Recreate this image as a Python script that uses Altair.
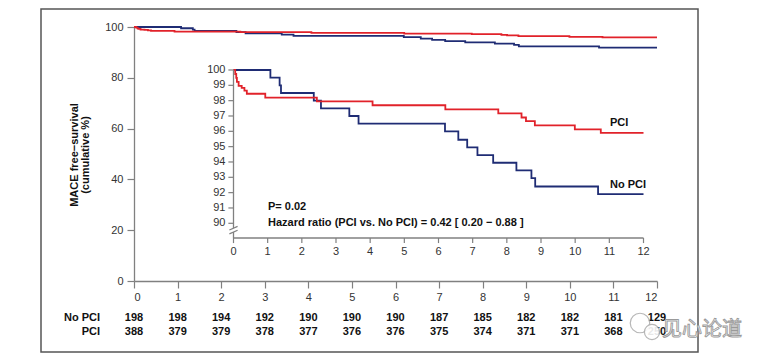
import altair as alt
import pandas as pd

# ---- data (time in months, survival in %) ----
nopci_t = [0, 1.08, 1.35, 1.39, 2.35, 2.56, 3.39, 3.66, 6.19, 6.58, 6.84, 7.14, 7.6, 8.28, 8.72, 8.83, 10.67, 12]
nopci_s = [100, 99.5, 99.0, 98.5, 98.0, 97.5, 97.0, 96.5, 96.0, 95.45, 94.95, 94.45, 93.95, 93.45, 92.95, 92.4, 91.9, 91.9]
pci_t = [0, 0.05, 0.08, 0.1, 0.15, 0.24, 0.32, 0.39, 0.93, 2.44, 4.07, 6.2, 7.75, 8.43, 8.56, 8.82, 9.99, 10.75, 12]
pci_s = [100, 99.74, 99.48, 99.23, 98.97, 98.84, 98.65, 98.45, 98.2, 97.95, 97.7, 97.43, 97.17, 96.9, 96.67, 96.39, 96.13, 95.9, 95.9]

months = list(range(13))
risk_nopci = [198, 198, 194, 192, 190, 190, 190, 187, 185, 182, 182, 181, 129]
risk_pci = [388, 379, 379, 378, 377, 376, 376, 375, 374, 371, 371, 368, 250]
main_y_ticks = [0, 20, 40, 60, 80, 100]
inset_y_ticks = list(range(90, 101))
groups = ["No PCI", "PCI"]

# break marks on inset y axis (x1, x2, y1, y2 in inset data units)
brk_x1 = [-0.12, -0.12]
brk_x2 = [0.12, 0.12]
brk_y1 = [89.56, 89.31]
brk_y2 = [89.80, 89.55]

RED = "#E1222A"
BLUE = "#1F2C74"
GRAY = "#808080"
TXT = "#333333"
FONT = "Liberation Sans"

surv = pd.DataFrame({
    "t": nopci_t + pci_t,
    "s": nopci_s + pci_s,
    "g": ["No PCI"] * len(nopci_t) + ["PCI"] * len(pci_t),
})
risk = pd.DataFrame({"t": months, "n0": risk_nopci, "n1": risk_pci})
iyt = pd.DataFrame({"v": inset_y_ticks})
ixt = pd.DataFrame({"t": months})
brk = pd.DataFrame({"x1": brk_x1, "x2": brk_x2, "y1": brk_y1, "y2": brk_y2})
one = alt.Data(values=[{}])

color = alt.Color("g:N", scale=alt.Scale(domain=groups, range=[BLUE, RED]), legend=None)

# ---- main scales / axes ----
main_x = alt.Scale(domain=[0, 12], nice=False, zero=False)
main_y = alt.Scale(domain=[0, 100], nice=False, zero=False)
ax_x = alt.Axis(values=months, title=None, grid=False, tickSize=7, labelPadding=3,
                domainColor=GRAY, tickColor=GRAY, domainWidth=1.3, tickWidth=1.2,
                labelColor=TXT, labelFont=FONT, labelFontSize=11)
ax_y = alt.Axis(values=main_y_ticks, title=None, grid=False, tickSize=7, labelPadding=4,
                domainColor=GRAY, tickColor=GRAY, domainWidth=1.3, tickWidth=1.2,
                labelColor=TXT, labelFont=FONT, labelFontSize=11)
MX = alt.X("t:Q", scale=main_x, axis=ax_x)
MY = alt.Y("s:Q", scale=main_y, axis=ax_y)

main_lines = alt.Chart(surv).mark_line(interpolate="step-after", strokeWidth=1.8).encode(
    x=MX, y=MY, color=color, detail="g:N")

frame = alt.Chart(one).mark_rect(fillOpacity=0, stroke="#555555", strokeWidth=1.5).encode(
    x=alt.value(-93), x2=alt.value(564), y=alt.value(-18), y2=alt.value(325))

ytitle1 = alt.Chart(one).mark_text(angle=270, font=FONT, fontSize=11, fontWeight="bold",
                                   color="#111", baseline="middle").encode(
    x=alt.value(-59), y=alt.value(128), text=alt.value("MACE free−survival"))
ytitle2 = alt.Chart(one).mark_text(angle=270, font=FONT, fontSize=11, fontWeight="bold",
                                   color="#111", baseline="middle").encode(
    x=alt.value(-48), y=alt.value(128), text=alt.value("(cumulative %)"))

row0 = alt.Chart(risk).mark_text(font=FONT, fontSize=11, fontWeight="bold", color="#111",
                                 baseline="middle").encode(
    x=MX, y=alt.value(291), text="n0:N")
row1 = alt.Chart(risk).mark_text(font=FONT, fontSize=11, fontWeight="bold", color="#111",
                                 baseline="middle").encode(
    x=MX, y=alt.value(305), text="n1:N")
lab0 = alt.Chart(one).mark_text(font=FONT, fontSize=11, fontWeight="bold", color="#111",
                                align="right", baseline="middle").encode(
    x=alt.value(-34), y=alt.value(291), text=alt.value("No PCI"))
lab1 = alt.Chart(one).mark_text(font=FONT, fontSize=11, fontWeight="bold", color="#111",
                                align="right", baseline="middle").encode(
    x=alt.value(-34), y=alt.value(305), text=alt.value("PCI"))

bubble1 = alt.Chart(one).mark_point(shape="circle", filled=True, fill="white", stroke="#b0b0b0",
                                    strokeWidth=1.2, opacity=0.9, size=380).encode(
    x=alt.value(506), y=alt.value(296))
bubble2 = alt.Chart(one).mark_point(shape="circle", filled=True, fill="white", stroke="#b0b0b0",
                                    strokeWidth=1.2, opacity=0.9, size=230).encode(
    x=alt.value(518), y=alt.value(305))
wm = alt.Chart(one).mark_text(font="Noto Sans CJK SC", fontSize=20, fill="white", stroke="#9a9a9a",
                              strokeWidth=0.9, baseline="middle", align="left").encode(
    x=alt.value(528), y=alt.value(303), text=alt.value("见心论道"))

main = alt.layer(main_lines, frame, ytitle1, ytitle2, row0, row1, lab0, lab1, bubble1, bubble2, wm)

# ---- inset scales (positioned within the same plot rectangle) ----
inset_x = alt.Scale(domain=[-2.912, 12.395], nice=False, zero=False)
inset_y = alt.Scale(domain=[86.236, 102.805], nice=False, zero=False)
IX = alt.X("t:Q", scale=inset_x, axis=None)
IY = alt.Y("s:Q", scale=inset_y, axis=None)
AXIS_V = 89.04

inset_lines = alt.Chart(surv).mark_line(interpolate="step-after", strokeWidth=1.8).encode(
    x=IX, y=IY, color=color, detail="g:N")

iy_top = alt.Chart(one).mark_rule(color=GRAY, strokeWidth=1.3).encode(
    x=alt.X(datum=0, scale=inset_x, axis=None),
    y=alt.Y(datum=100, scale=inset_y, axis=None), y2=alt.Y2(datum=89.68))
iy_bot = alt.Chart(one).mark_rule(color=GRAY, strokeWidth=1.3).encode(
    x=alt.X(datum=0, scale=inset_x, axis=None),
    y=alt.Y(datum=89.43, scale=inset_y, axis=None), y2=alt.Y2(datum=AXIS_V))
ix_line = alt.Chart(one).mark_rule(color=GRAY, strokeWidth=1.3).encode(
    x=alt.X(datum=0, scale=inset_x, axis=None), x2=alt.X2(datum=12),
    y=alt.Y(datum=AXIS_V, scale=inset_y, axis=None))
brk_marks = alt.Chart(brk).mark_rule(color=GRAY, strokeWidth=1.2).encode(
    x=alt.X("x1:Q", scale=inset_x, axis=None), x2="x2:Q",
    y=alt.Y("y1:Q", scale=inset_y, axis=None), y2="y2:Q")

iy_ticks = alt.Chart(iyt).mark_rule(color=GRAY, strokeWidth=1.2).encode(
    x=alt.X(datum=0, scale=inset_x, axis=None), x2=alt.X2(datum=-0.15),
    y=alt.Y("v:Q", scale=inset_y, axis=None))
iy_labels = alt.Chart(iyt).mark_text(font=FONT, fontSize=11, color=TXT, align="right",
                                     baseline="middle", dx=-8).encode(
    x=alt.X(datum=0, scale=inset_x, axis=None),
    y=alt.Y("v:Q", scale=inset_y, axis=None), text="v:Q")
ix_ticks = alt.Chart(ixt).mark_rule(color=GRAY, strokeWidth=1.2).encode(
    x=alt.X("t:Q", scale=inset_x, axis=None),
    y=alt.Y(datum=AXIS_V, scale=inset_y, axis=None), y2=alt.Y2(datum=AXIS_V - 0.33))
ix_labels = alt.Chart(ixt).mark_text(font=FONT, fontSize=11, color=TXT,
                                     baseline="middle", dy=14).encode(
    x=alt.X("t:Q", scale=inset_x, axis=None),
    y=alt.Y(datum=AXIS_V, scale=inset_y, axis=None), text="t:Q")

def note(txt, x, y):
    return alt.Chart(one).mark_text(font=FONT, fontSize=11, fontWeight="bold", color="#111",
                                    align="left", baseline="middle").encode(
        x=alt.value(x), y=alt.value(y), text=alt.value(txt))

inset = alt.layer(
    inset_lines, iy_top, iy_bot, ix_line, brk_marks, iy_ticks, iy_labels, ix_ticks, ix_labels,
    note("P= 0.02", 134, 180),
    note("Hazard ratio (PCI vs. No PCI) = 0.42 [ 0.20 − 0.88 ]", 134, 196),
    note("PCI", 476, 96),
    note("No PCI", 476, 158),
)

chart = alt.layer(main, inset).resolve_scale(x="independent", y="independent").properties(
    width=523, height=254,
    padding={"left": 126, "top": 19, "right": 92, "bottom": 72},
    autosize=alt.AutoSizeParams(type="none"),
    background="white",
).configure_view(stroke=None)

chart.save("out.html", embed_options={"renderer": "svg", "actions": False})
